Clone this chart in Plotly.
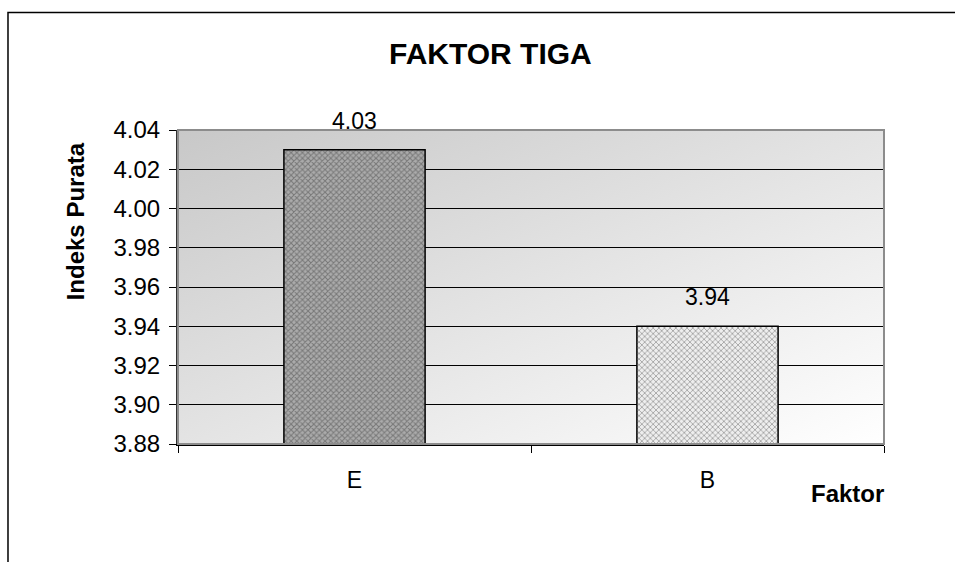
import base64
import plotly.graph_objects as go

categories = ["E", "B"]
values = [4.03, 3.94]
value_labels = ["4.03", "3.94"]
y_ticks = [3.88, 3.90, 3.92, 3.94, 3.96, 3.98, 4.00, 4.02, 4.04]
title_text = "FAKTOR TIGA"
y_title = "Indeks Purata"
x_title = "Faktor"

FONT = "Liberation Sans, Arial, sans-serif"

svg = ('<svg xmlns="http://www.w3.org/2000/svg" width="706" height="315" preserveAspectRatio="none">'
       '<defs><linearGradient id="g" x1="0" y1="0" x2="1" y2="1">'
       '<stop offset="0" stop-color="#c8c8c8"/><stop offset="1" stop-color="#ffffff"/>'
       '</linearGradient></defs><rect width="706" height="315" fill="url(#g)"/></svg>')
bg_uri = "data:image/svg+xml;base64," + base64.b64encode(svg.encode()).decode()

fig = go.Figure()
fig.add_trace(go.Bar(
    x=categories, y=values, width=0.4,
    marker=dict(
        color=["#ababab", "#eeeeee"],
        line=dict(color="#000000", width=1.5),
        pattern=dict(shape="x", size=4, solidity=[0.45, 0.35],
                     fgcolor=["#1a1a1a", "#dadada"],
                     fillmode="overlay"),
    ),
    showlegend=False, hoverinfo="skip",
))

for c, v, t in zip(categories, values, value_labels):
    fig.add_annotation(x=c, y=v, text=t, showarrow=False, yanchor="bottom", yshift=14,
                       font=dict(family=FONT, size=23, color="#000"))

fig.add_annotation(xref="paper", yref="paper", x=-0.145, y=0.708, text="<b>%s</b>" % y_title,
                   textangle=-90, showarrow=False, xanchor="center", yanchor="middle",
                   font=dict(family=FONT, size=24, color="#000"))
fig.add_annotation(xref="paper", yref="paper", x=0.949, y=-0.159, text="<b>%s</b>" % x_title,
                   showarrow=False, xanchor="center", yanchor="middle",
                   font=dict(family=FONT, size=24, color="#000"))
fig.add_annotation(xref="paper", yref="paper", x=0.442, y=(444 - 52) / 315,
                   text="<b>%s</b>" % title_text, showarrow=False, xanchor="center",
                   yanchor="middle", font=dict(family=FONT, size=30, color="#000"))

# plot area border
fig.add_shape(type="rect", xref="paper", yref="paper", x0=0, y0=0, x1=1, y1=1,
              line=dict(color="#8c8c8c", width=2), layer="above")
# outer chart frame
fig.add_shape(type="rect", xref="paper", yref="paper", x0=-0.2408, y0=-0.45, x1=1.2, y1=1.3746,
              line=dict(color="#000000", width=1.5))

fig.add_layout_image(source=bg_uri, xref="paper", yref="paper", x=0, y=1, sizex=1, sizey=1,
                     sizing="stretch", xanchor="left", yanchor="top", layer="below")

fig.update_layout(
    width=955, height=562,
    margin=dict(l=178, r=71, t=130, b=118),
    paper_bgcolor="#ffffff", plot_bgcolor="rgba(0,0,0,0)",
    font=dict(family=FONT, color="#000"),
    bargap=0.6,
)
fig.update_xaxes(type="category", tickson="boundaries", ticks="outside", ticklen=7,
                 tickcolor="#000", showline=True, linecolor="#000", linewidth=2,
                 showgrid=False, ticklabelstandoff=14, tickfont=dict(size=23))
fig.update_yaxes(range=[3.88, 4.04], tickvals=y_ticks, ticktext=["%.2f" % v for v in y_ticks],
                 ticks="outside", ticklen=7, tickcolor="#000", showline=True, linecolor="#333",
                 linewidth=2, showgrid=True, gridcolor="#000", gridwidth=1, zeroline=False,
                 ticklabelstandoff=4, tickfont=dict(size=24))

fig.write_html("out.html", config={"displayModeBar": False},
               post_script="document.body.style.margin='0';document.body.style.overflow='hidden';")
